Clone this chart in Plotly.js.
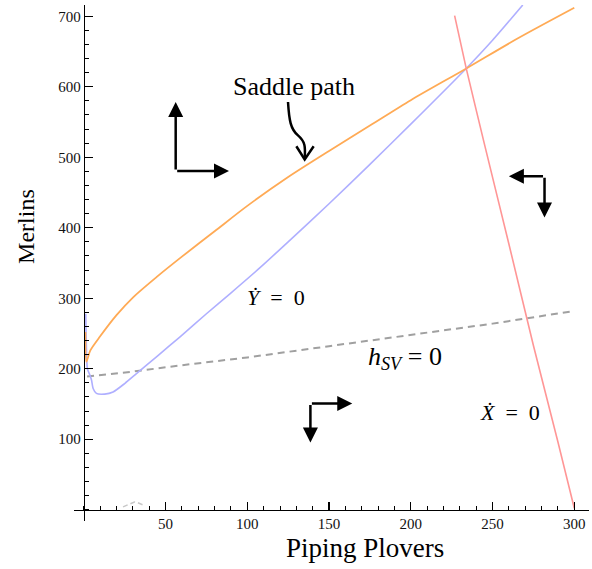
<!DOCTYPE html>
<html>
<head>
<meta charset="utf-8">
<script src="https://cdn.plot.ly/plotly-3.0.1.min.js"></script>
<style>html,body{margin:0;padding:0;background:#fff;}#chart{width:592px;height:569px;}</style>
</head>
<body>
<div id="chart"></div>
<script>
// Saddle path (orange)
const saddleX = [1.0, 1.6, 4, 10, 20, 30, 45, 60, 80, 100, 125, 150, 175, 200, 234, 265, 300];
const saddleY = [252, 210, 226, 246, 276, 301, 331, 359, 395, 431, 472, 509, 545, 581, 626, 668, 712];
// Y-dot = 0 isocline (blue)
const ydotX = [1.2, 1.5, 2.2, 3.7, 4.7, 5.7, 7.7, 12.8, 17.9, 25, 32.2, 45, 58.7, 75, 89.2, 107.6, 125, 150, 175, 200, 233.9, 250, 268.5];
const ydotY = [278, 240, 200, 191, 184, 172, 165, 164, 167, 179, 193, 218, 245, 278, 306, 343, 380, 434, 490, 547, 626, 666, 716];
// h_SV = 0 (gray dashed)
const hsvX = [2, 30, 60, 100, 150, 200, 250, 300];
const hsvY = [189, 196, 205, 216, 232, 248, 264, 282];
// small gray fragment near the origin
const fragX = [24, 29, 31, 33, 36];
const fragY = [4, 9, 11, 10, 7];
// X-dot = 0 isocline (red)
const xdotX = [226.8, 233.9, 245, 260, 275, 290, 300];
const xdotY = [701, 626, 519, 377, 233, 96, 2];
// axis ticks
const xTickVals = [50, 100, 150, 200, 250, 300];
const yTickVals = [100, 200, 300, 400, 500, 600, 700];
// phase arrows: [cornerX, cornerY, tipX, tipY]
const phaseArrows = [
  [56.2, 480.6, 56.2, 578.4],
  [56.2, 480.6, 88.8, 480.6],
  [281.8, 473, 260, 473],
  [281.8, 473, 281.8, 414.5],
  [138.6, 150.6, 164.2, 150.6],
  [138.6, 150.6, 138.6, 95.3]
];

const serif = 'Liberation Serif, Times New Roman, serif';
const traces = [
  {x: hsvX, y: hsvY, mode: 'lines', line: {color: 'rgb(160,160,160)', width: 2, dash: '7px,5px'}, hoverinfo: 'skip'},
  {x: fragX, y: fragY, mode: 'lines', line: {color: 'rgb(200,200,200)', width: 1.5, dash: '5px,3px'}, hoverinfo: 'skip'},
  {x: ydotX, y: ydotY, mode: 'lines', line: {color: 'rgb(175,175,255)', width: 1.6, shape: 'spline', smoothing: 0.6}, hoverinfo: 'skip'},
  {x: saddleX, y: saddleY, mode: 'lines', line: {color: 'rgb(255,170,85)', width: 1.8, shape: 'spline', smoothing: 0.8}, hoverinfo: 'skip'},
  {x: xdotX, y: xdotY, mode: 'lines', line: {color: 'rgb(255,150,150)', width: 1.6, shape: 'spline', smoothing: 0.4}, hoverinfo: 'skip'}
];

const annotations = phaseArrows.map(a => ({
  x: a[2], y: a[3], ax: a[0], ay: a[1], xref: 'x', yref: 'y', axref: 'x', ayref: 'y',
  text: '', showarrow: true, arrowhead: 2, arrowsize: 1.2, arrowwidth: 2.5, arrowcolor: '#000', standoff: 0, startstandoff: 0
}));
annotations.push(
  {x: 128.7, y: 600.7, xref: 'x', yref: 'y', text: 'Saddle path', showarrow: false, font: {family: serif, size: 26, color: '#000'}},
  {x: 117.5, y: 301.4, xref: 'x', yref: 'y', text: '<i>\u1E8E</i>\u00A0\u00A0=\u00A0\u00A00', showarrow: false, font: {family: serif, size: 22, color: '#000'}},
  {x: 260.4, y: 138.3, xref: 'x', yref: 'y', text: '<i>\u1E8A</i>\u00A0\u00A0=\u00A0\u00A00', showarrow: false, font: {family: serif, size: 22, color: '#000'}},
  {x: 196.5, y: 215, xref: 'x', yref: 'y', text: '<i>h</i><sub><i>SV</i></sub>\u00A0=\u00A00', showarrow: false, font: {family: serif, size: 26, color: '#000'}},
  {x: -0.0932, y: 0.570, xref: 'paper', yref: 'paper', xanchor: 'center', yanchor: 'middle', text: 'Merlins', textangle: -90, showarrow: false, font: {family: serif, size: 24, color: '#000'}},
  {x: 0.565, y: -0.0523, xref: 'paper', yref: 'paper', xanchor: 'center', yanchor: 'middle', text: 'Piping Plovers', showarrow: false, font: {family: serif, size: 27, color: '#000'}}
);

const layout = {
  width: 592, height: 569,
  margin: {l: 74, r: 3, t: 5, b: 48, pad: 0},
  paper_bgcolor: '#fff', plot_bgcolor: '#fff',
  showlegend: false,
  xaxis: {
    range: [-6, 309], anchor: 'free', position: 16 / 732,
    showline: true, linecolor: '#000', linewidth: 1.5,
    showgrid: false, zeroline: false,
    tickmode: 'array', tickvals: xTickVals,
    ticks: 'inside', ticklen: 8, tickwidth: 1.3, tickcolor: '#000',
    minor: {tick0: 0, dtick: 10, ticks: 'inside', ticklen: 4, tickwidth: 1, tickcolor: '#000', showgrid: false},
    tickfont: {family: serif, size: 15, color: '#111'}
  },
  yaxis: {
    range: [-16, 716], anchor: 'free', position: 6 / 315,
    showline: true, linecolor: '#000', linewidth: 1.5,
    showgrid: false, zeroline: false,
    tickmode: 'array', tickvals: yTickVals,
    ticks: 'inside', ticklen: 8, tickwidth: 1.3, tickcolor: '#000',
    minor: {tick0: 0, dtick: 20, ticks: 'inside', ticklen: 4, tickwidth: 1, tickcolor: '#000', showgrid: false},
    tickfont: {family: serif, size: 15, color: '#111'}
  },
  shapes: [
    {type: 'path', xref: 'x', yref: 'y', path: 'M124.9,578.4 C125.6,552 126.5,540 131,531 S135.6,515 135.1,498', line: {color: '#000', width: 2.5}},
    {type: 'path', xref: 'x', yref: 'y', path: 'M130.0,515.6 L135.1,497 L140.6,515.6', line: {color: '#000', width: 2.5}}
  ],
  annotations: annotations
};

Plotly.newPlot('chart', traces, layout, {staticPlot: true});
</script>
</body>
</html>
